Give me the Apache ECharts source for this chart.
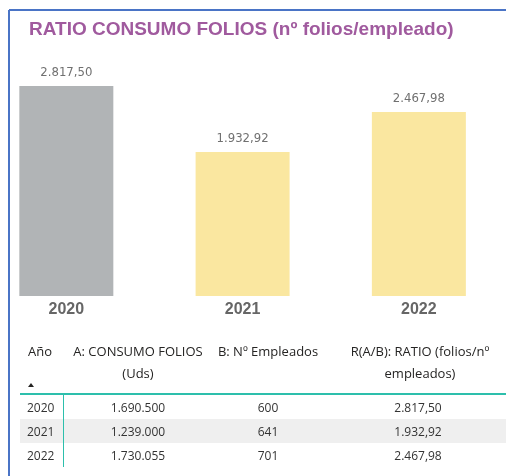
<!DOCTYPE html>
<html>
<head>
    <meta charset="utf-8">
    <script src="https://cdnjs.cloudflare.com/ajax/libs/echarts/6.0.0/echarts.min.js"></script>
    <style>
        html, body { margin: 0; padding: 0; background: #fff; }
    </style>
</head>
<body>
<div id="chart" style="width: 506px; height: 476px;"></div>
<script type="text/javascript">
    // Data
    var years = ['2020', '2021', '2022'];
    var ratio = [2817.50, 1932.92, 2467.98];
    var consumo = [1690500, 1239000, 1730055];
    var empleados = [600, 641, 701];
    var headers = ['Año', 'A: CONSUMO FOLIOS\n(Uds)', 'B: Nº Empleados', 'R(A/B): RATIO (folios/nº\nempleados)'];

    // number format like 1.234,56
    function fmt(v, dec) {
        var s = v.toFixed(dec).split('.');
        var ent = s[0].replace(/\B(?=(\d{3})+(?!\d))/g, '.');
        return s.length > 1 ? ent + ',' + s[1] : ent;
    }

    var grey = '#B1B4B6';
    var yellow = '#FAE7A0';
    var textFont = '"Open Sans", "Noto Sans", sans-serif';

    // table built as graphic texts
    var colX = [27, 138, 268, 418];
    var rowY = [409, 433, 457];
    var table = [];
    table.push({ type: 'line', shape: { x1: 9, y1: 10, x2: 506, y2: 10 }, style: { stroke: '#4A74C6', lineWidth: 2 } });
    table.push({ type: 'line', shape: { x1: 9, y1: 10, x2: 9, y2: 476 }, style: { stroke: '#4A74C6', lineWidth: 2 } });
    table.push({ type: 'rect', shape: { x: 20, y: 419, width: 486, height: 24 }, style: { fill: '#EFEFEF' } });
    table.push({ type: 'line', shape: { x1: 20, y1: 394, x2: 506, y2: 394 }, style: { stroke: '#2DBFAC', lineWidth: 2 } });
    table.push({ type: 'line', shape: { x1: 63.5, y1: 394, x2: 63.5, y2: 467 }, style: { stroke: '#2DBFAC', lineWidth: 1 } });
    table.push({ type: 'polygon', shape: { points: [[28, 387], [34, 387], [31, 383]] }, style: { fill: '#252423' } });
    headers.forEach(function (h, i) {
        table.push({
            type: 'text', x: i === 0 ? 28 : (i === 3 ? 420 : colX[i]), y: 341,
            style: { text: h, font: '13px ' + textFont, fill: '#252423', align: i === 0 ? 'left' : 'center', verticalAlign: 'top', lineHeight: 22 }
        });
    });
    years.forEach(function (y, r) {
        var cells = [y, fmt(consumo[r], 0), fmt(empleados[r], 0), fmt(ratio[r], 2)];
        cells.forEach(function (c, i) {
            table.push({
                type: 'text', x: colX[i], y: rowY[r],
                style: { text: c, font: '12px ' + textFont, fill: '#333', align: i === 0 ? 'left' : 'center', verticalAlign: 'middle' }
            });
        });
    });

    var chart = echarts.init(document.getElementById('chart'));
    var option = {
        animation: false,
        title: {
            text: 'RATIO CONSUMO FOLIOS (nº folios/empleado)',
            left: 24, top: 15,
            textStyle: { fontFamily: '"Liberation Sans", Arial, sans-serif', fontSize: 19, fontWeight: 'bold', color: '#A05A9E' }
        },
        grid: { left: -21.8, top: 72.4, width: 528.8, height: 223.6, outerBoundsMode: 'none', containLabel: false },
        xAxis: {
            type: 'category', data: years,
            axisLine: { show: false }, axisTick: { show: false },
            axisLabel: { margin: 6, fontFamily: '"Liberation Sans", Arial, sans-serif', fontSize: 16, fontWeight: 'bold', color: '#666' }
        },
        yAxis: { type: 'value', min: 0, max: 3000, show: false, splitLine: { show: false } },
        series: [{
            type: 'bar',
            data: ratio,
            barWidth: 94,
            itemStyle: {
                color: function (p) { return p.dataIndex === 0 ? grey : yellow; }
            },
            label: {
                show: true, position: 'top', distance: 7,
                fontFamily: '"DejaVu Sans Condensed", sans-serif', fontSize: 13, color: '#707070',
                formatter: function (p) { return fmt(p.value, 2); }
            }
        }],
        graphic: table
    };
    chart.setOption(option);
</script>
</body>
</html>
